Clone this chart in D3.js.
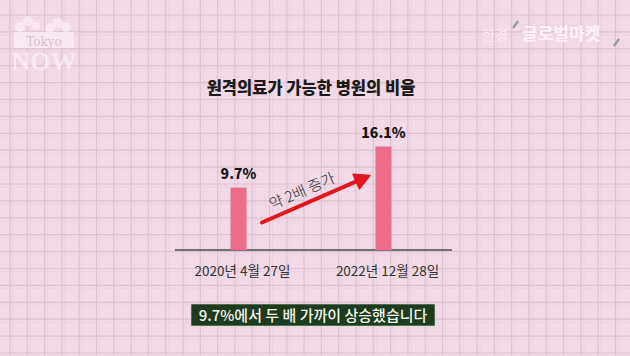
<!DOCTYPE html>
<html><head><meta charset="utf-8">
<script src="https://cdn.jsdelivr.net/npm/d3@7"></script>
<style>
html,body{margin:0;padding:0;background:#f1dbe7;}
svg{display:block;}
</style></head>
<body>
<svg id="c" width="630" height="356"></svg>
<script>
const categories = ["2020년 4월 27일", "2022년 12월 28일"];
const values = [9.7, 16.1];
const valueLabels = ["9.7%", "16.1%"];
const title = "원격의료가 가능한 병원의 비율";
const arrowText = "약 2배 증가";
const caption = "9.7%에서 두 배 가까이 상승했습니다";

const W = 630, H = 356;
const svg = d3.select("#c");
const KR = "'Noto Sans CJK KR','Noto Sans',sans-serif";

// background + plaid grid
svg.append("rect").attr("width", W).attr("height", H).attr("fill", "#f1dae6");
const gx = d3.range(10, W, 17.3);
const gy = d3.range(15, H, 16.9);
const grid = svg.append("g");
grid.selectAll(".vl").data(gx).join("line")
  .attr("x1", d => d).attr("x2", d => d).attr("y1", 0).attr("y2", H)
  .attr("stroke", "#ddc0d1").attr("stroke-width", 1.2);
grid.selectAll(".vl2").data(gx).join("line")
  .attr("x1", d => d + 3).attr("x2", d => d + 3).attr("y1", 0).attr("y2", H)
  .attr("stroke", "#e9d0dd").attr("stroke-width", 0.8);
grid.selectAll(".hl").data(gy).join("line")
  .attr("y1", d => d).attr("y2", d => d).attr("x1", 0).attr("x2", W)
  .attr("stroke", "#ddc0d1").attr("stroke-width", 1.2);
grid.selectAll(".hl2").data(gy).join("line")
  .attr("y1", d => d + 3).attr("y2", d => d + 3).attr("x1", 0).attr("x2", W)
  .attr("stroke", "#e9d0dd").attr("stroke-width", 0.8);

// logos (watermarks)
const logo = svg.append("g").attr("opacity", 0.9);
[[20,27,5],[28,21,5],[36,26,4],[50,28,5],[58,23,5],[66,27,5]].forEach(([x,y,r]) => {
  logo.append("circle").attr("cx", x).attr("cy", y).attr("r", r).attr("fill", "#f9eaf1");
});
logo.append("rect").attr("x", 14).attr("y", 32).attr("width", 60).attr("height", 16)
  .attr("fill", "#f9ecf2");
logo.append("text").attr("x", 44).attr("y", 45.5).attr("text-anchor", "middle")
  .attr("font-family", "'DejaVu Serif',serif").attr("font-size", 12).attr("fill", "#d9bccb").text("Tokyo");
logo.append("text").attr("x", 44).attr("y", 70).attr("text-anchor", "middle")
  .attr("font-family", "'Liberation Serif',serif").attr("font-weight", 700).attr("font-size", 26)
  .attr("fill", "#f9ecf2").text("NOW");
const brand = svg.append("g");
brand.append("text").attr("x", 482).attr("y", 40).attr("font-family", KR).attr("font-size", 14)
  .attr("fill", "#f8eaf1").text("한경");
brand.append("text").attr("x", 522).attr("y", 40).attr("font-family", KR).attr("font-weight", 700).attr("font-size", 17)
  .attr("fill", "#fcf3f7").text("글로벌마켓");
brand.append("line").attr("x1", 513).attr("y1", 28).attr("x2", 518).attr("y2", 21)
  .attr("stroke", "#8a9f95").attr("stroke-width", 2.2);
brand.append("line").attr("x1", 614).attr("y1", 46).attr("x2", 619).attr("y2", 39)
  .attr("stroke", "#8a9f95").attr("stroke-width", 2.2);

// title
svg.append("text").attr("x", 311).attr("y", 94).attr("text-anchor", "middle")
  .attr("font-family", KR).attr("font-weight", 900).attr("font-size", 16.5)
  .attr("fill", "#1a1a1a").text(title);

// scales
const x = d3.scalePoint().domain(categories).range([238.5, 383.5]);
const y = d3.scaleLinear().domain([0, 16.1]).range([250, 146.5]);
const barW = 16;

// axis baseline
svg.append("line").attr("x1", 175).attr("x2", 452).attr("y1", y(0)).attr("y2", y(0))
  .attr("stroke", "#4e4a4c").attr("stroke-width", 1.5);

// bars
svg.selectAll(".bar").data(values).join("rect")
  .attr("x", (d, i) => x(categories[i]) - barW / 2)
  .attr("y", d => y(d))
  .attr("width", barW)
  .attr("height", d => y(0) - y(d))
  .attr("fill", "#ec6c8c");

// value labels
svg.selectAll(".vlab").data(values).join("text")
  .attr("x", (d, i) => x(categories[i]))
  .attr("y", d => y(d) - 9)
  .attr("text-anchor", "middle")
  .attr("font-family", KR).attr("font-weight", 900).attr("font-size", 14)
  .attr("fill", "#161616")
  .text((d, i) => valueLabels[i]);

// category labels
svg.selectAll(".clab").data(categories).join("text")
  .attr("x", (d) => x(d) + 4)
  .attr("y", 275.5)
  .attr("text-anchor", "middle")
  .attr("font-family", KR).attr("font-size", 13.5)
  .attr("fill", "#333")
  .text(d => d);

// arrow
const ax1 = 262, ay1 = 222.5, ax2 = 370, ay2 = 175.5;
const ang = Math.atan2(ay2 - ay1, ax2 - ax1);
const hd = 15, hw = 8;
const bx = ax2 - hd * Math.cos(ang), by = ay2 - hd * Math.sin(ang);
svg.append("line").attr("x1", ax1).attr("y1", ay1).attr("x2", bx + 2 * Math.cos(ang)).attr("y2", by + 2 * Math.sin(ang))
  .attr("stroke", "#e3161d").attr("stroke-width", 4).attr("stroke-linecap", "round");
svg.append("path")
  .attr("d", `M${ax2},${ay2} L${bx + hw * Math.sin(ang)},${by - hw * Math.cos(ang)} L${bx - hw * Math.sin(ang)},${by + hw * Math.cos(ang)} Z`)
  .attr("fill", "#e3161d").attr("stroke", "#e3161d").attr("stroke-width", 1.5).attr("stroke-linejoin", "round");
const deg = ang * 180 / Math.PI;
svg.append("text").attr("transform", `translate(304,196) rotate(${deg})`)
  .attr("text-anchor", "middle")
  .attr("font-family", KR).attr("font-size", 15).attr("font-weight", 300)
  .attr("fill", "#2a2a2a").text(arrowText);

// caption box
svg.append("rect").attr("x", 191).attr("y", 304).attr("width", 244).attr("height", 22)
  .attr("fill", "#1f3b1f").attr("stroke", "#cfe0c8").attr("stroke-width", 0.6);
svg.append("text").attr("x", 313).attr("y", 320.5).attr("text-anchor", "middle")
  .attr("font-family", KR).attr("font-size", 15).attr("font-weight", 500)
  .attr("fill", "#f2f5ea").text(caption);
</script>
</body></html>
